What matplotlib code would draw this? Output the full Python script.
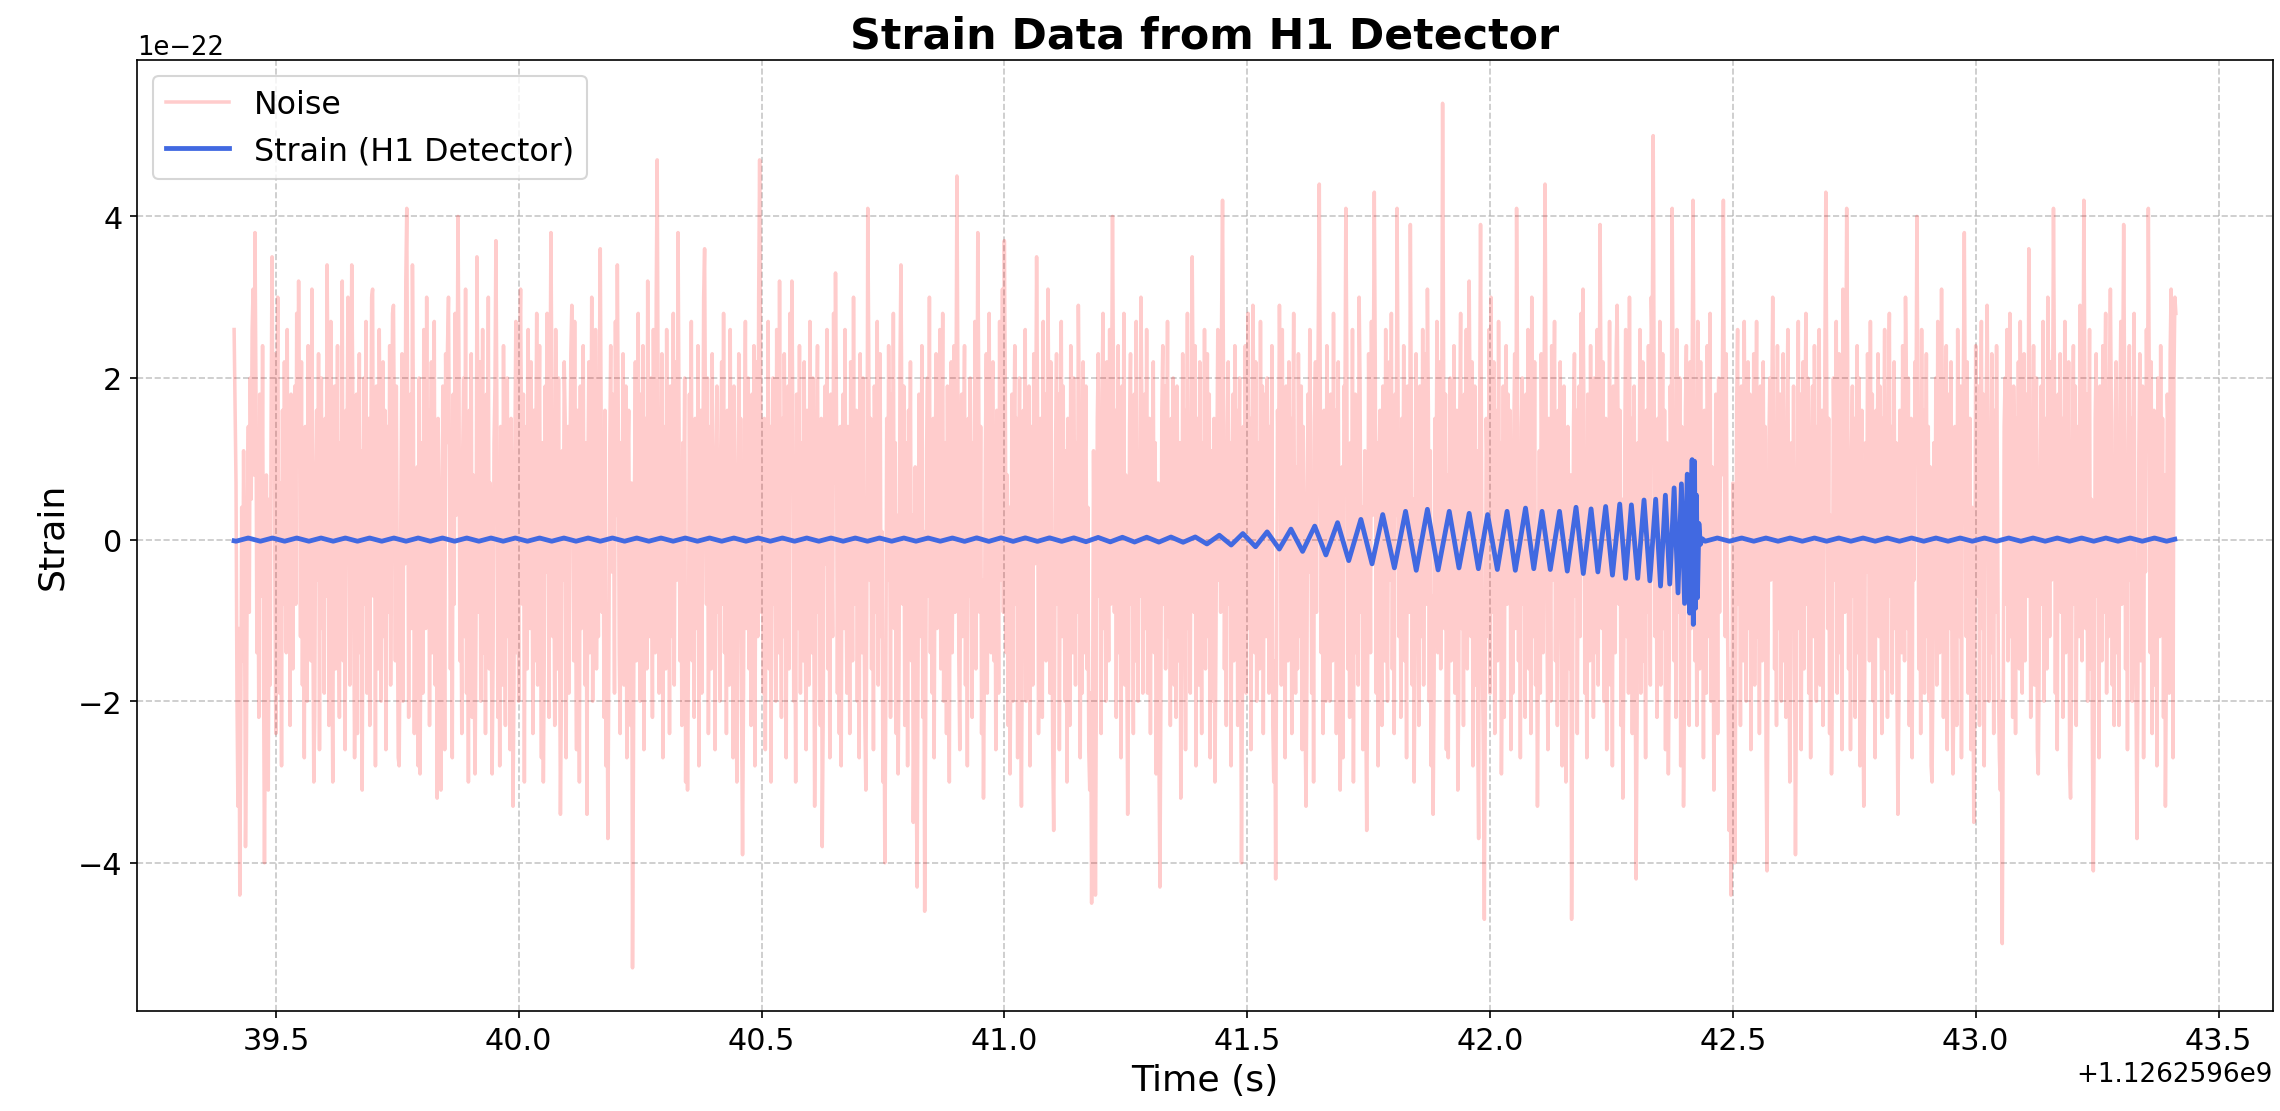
import numpy as np
import matplotlib
matplotlib.use("Agg")
import matplotlib.pyplot as plt

# GPS reference and sampling of the noise record
gps_ref = 1126259600.0
fs = 512.0
noise_start = 39.414

# noise, in units of 1e-23 (32 samples per row)
noise_tenths = [
    26, 16, 7, -19, -33, -11, -44, -23, 4, -15, 11, -8, -38, -26, 3, 14, -9, 20, 5, 26, 31, 8, 38, 19, -14, 9, -22, 18, 1, -7, 24, -16,
    -40, -20, 8, -12, -31, 5, -18, 15, 35, 12, 23, -5, -24, 11, 30, -3, -19, 7, -28, 16, -8, 22, 4, -14, 26, -11, 9, -23, 18, 0, -16, 12,
    19, -8, 28, 11, 32, 15, -12, 22, -18, 5, -27, 14, 3, -20, 24, -4, 9, -15, 31, -9, -30, -22, 7, 16, -5, 23, -26, 12, 20, -11, 8, -19,
    15, -7, 34, 18, -23, 4, 27, -12, -30, 8, 19, -16, 1, 24, -9, -22, 12, -4, 32, -15, 7, -26, 16, 9, 30, 3, -18, 14, 34, 20, -8, -27,
    -11, 18, -24, 5, 23, -14, 11, -31, 3, 20, -8, 27, -19, -1, 15, -23, 8, 30, 31, -7, 12, -28, 19, -4, -16, 26, 9, -20, 4, 22, -12, 16,
    -26, 7, 14, -9, 24, -18, 3, 28, 29, 11, -15, 19, -5, -27, -28, -12, 8, 23, -20, 15, -3, 32, 41, 14, -22, 4, 18, -11, 34, 16, -24, 1,
    -15, 9, -28, 20, -29, -8, 12, -19, 26, 5, -11, 30, -4, 16, -23, 8, 22, -14, 1, 27, -18, 11, -32, 15, 7, -12, -31, -16, 19, 4, -26, 23,
    12, 24, 30, 9, -16, 5, -27, 18, -8, 28, 3, 14, 40, 22, -15, -3, -24, 11, 20, -12, 31, -19, 7, -30, 16, -5, 23, -22, 8, -14, -29, -11,
    35, 15, -9, 22, -20, 4, 26, -14, 11, -24, 18, -3, 30, -16, 7, -8, -29, -15, 12, 19, 37, 16, -22, 3, -28, 14, 8, -18, 24, -7, -23, 9,
    20, -12, 5, -26, 15, -3, -33, -19, 11, 27, -14, 4, -20, 23, 31, 12, -8, 18, -30, 7, 14, -16, 26, -5, -11, 22, 1, -24, 16, -15, 9, 28,
    -18, 8, 24, -7, -27, 12, -30, -14, 19, -4, 28, 9, -22, 16, 38, 18, -12, 3, -23, 26, 7, -16, 20, -9, -34, -20, 11, -5, 22, 15, -27, 4,
    14, -19, 8, 23, 29, 11, -15, 27, -8, -26, 16, 1, -30, 19, -11, 7, 24, -4, -18, 12, -34, 9, 22, -14, 4, 30, -20, 15, -7, 26, -16, 5,
    -12, 20, 36, 14, -9, 5, -22, 16, -28, -8, -37, -16, 11, 24, -4, 18, 8, -19, 27, 3, 34, 15, -14, -24, 12, -7, 23, -18, 1, 19, -27, 9,
    16, -11, -23, 7, -53, -27, 4, 22, -15, 12, 28, -8, -20, 18, -3, 24, -26, 9, 15, -16, 32, -5, -12, 20, 3, -22, 26, 8, -14, 30, 47, 18,
    -19, 5, -9, 23, -27, 14, 4, -16, 26, -7, 11, -24, 19, 1, -12, 28, -18, 8, 22, -5, 38, 16, -15, 9, -23, 12, 3, 20, -30, -8, -31, -14,
    18, -4, 27, -15, 8, -22, 15, 5, -11, 24, -28, 9, 16, -19, 1, 30, 36, 12, -8, 20, -24, -3, 14, -16, 23, -12, 7, -26, 11, 19, -9, 4,
    -20, 11, 22, -8, 28, -14, 5, -24, 16, 3, -18, 26, -5, 12, -27, 19, 8, -15, -30, -12, 23, -3, 15, -22, -39, -19, 9, 27, -11, 4, 20, -16,
    12, -23, 18, -7, 24, -28, 3, 22, -12, 30, 47, 19, -9, 7, -19, 15, -26, 9, -4, 27, -16, 14, -30, 5, 20, -8, 11, -20, 26, 1, -14, 32,
    -5, -22, 15, -12, 23, 4, -27, 11, 19, -16, 28, 7, 32, 14, -20, -1, -30, 18, 8, -11, 24, -19, 12, 3, -15, 22, -8, -26, 16, 5, -18, 27,
    9, -14, 20, -7, -33, -18, 12, 24, -9, 4, -23, 15, -38, -22, 8, 19, -3, 26, -16, 11, -27, 18, 1, -12, 28, 7, 33, 16, -19, 9, -24, 14,
    -28, 8, 18, -11, 26, -4, -19, 14, 3, -24, 22, 9, -15, 30, -8, 5, 16, -20, 12, -27, 23, -1, -14, 20, -7, -23, -31, -9, 41, 24, -5, 15,
    -16, 11, -26, 19, 4, -9, 27, -18, 8, 23, -12, 1, -30, -14, -40, -20, 15, -5, 24, 7, -22, 18, -3, 28, -11, 12, -24, 3, -29, -15, 22, 34,
    14, -8, 19, -23, 5, 12, -28, 16, -4, 22, -15, 3, -35, -19, 9, -27, -43, -16, 18, 7, -12, 24, -22, 1, -46, -24, 11, 20, -7, 30, -14, 8,
    -19, 15, -27, 5, 23, -11, 16, -4, 26, -16, 8, 28, -20, 3, 12, -24, 19, -8, -30, 11, 22, -14, 4, 24, -9, 16, 45, 20, -15, -26, 7, 18,
    -12, 9, 24, -18, 5, -28, 15, -7, 20, 3, -22, 12, -11, 27, -16, 8, 38, 18, -9, 14, -24, -5, -32, -15, 11, 23, -19, 4, 28, -8, -14, 19,
    22, -15, 7, -26, 16, 1, -19, 27, -5, 12, 31, -9, 37, 19, -14, 8, -23, 4, -29, -12, 18, -20, 11, 24, -8, 15, -27, 3, 20, -16, -33, -11,
    16, -7, 26, -20, 9, -12, 19, -28, 4, 14, -18, 23, -3, 11, 35, 16, -24, -8, 15, 5, -22, 27, -11, 18, -15, 3, 31, 12, -19, 22, -5, -26,
    -36, -16, 12, 23, -8, 18, -26, 5, 27, -12, 19, -4, -20, 11, -30, 15, 8, -23, 24, -1, -14, 20, 4, -18, 12, -9, 29, 16, -27, 7, -19, 22,
    -14, 8, 19, -16, 4, -26, -31, -19, -45, -22, 11, -9, -44, -18, 15, 23, -7, 14, -24, 18, 28, -11, 5, -20, 22, 3, -15, 26, -8, 16, 40, 20,
    -9, 16, -22, 7, 24, -14, 12, -27, 19, -4, 28, -18, 8, -12, -34, -16, 14, 23, -8, 3, -24, 18, -15, 27, 5, -20, 11, -7, 30, 15, -19, 9,
    18, -11, 26, -19, 5, 15, -24, 9, -4, 22, -14, 12, -29, -15, 7, -27, -43, -20, 16, 24, -8, 19, -16, 3, 27, -12, 8, -23, 15, -5, 20, -18,
    11, -22, 19, 4, -15, 12, -32, -16, 23, -7, 16, -26, 1, 28, -11, 8, -19, 14, 35, 18, -9, 24, -28, 5, 15, -18, 22, -3, -24, 12, -8, 26,
    -16, 7, 23, -12, 18, -27, 11, 3, -20, 15, -30, -14, 8, 26, -5, 19, -9, 27, 42, 20, -16, 4, -23, 14, 22, -8, 12, -28, 5, 18, -15, 24,
    -7, 16, -23, 9, 20, -12, -40, -18, 14, -4, 24, -19, 8, 28, -11, 15, -26, 5, 29, 16, -14, 22, -20, 3, 12, -16, 27, -8, 19, -24, 7, 18,
    -12, 20, 4, -19, 14, -8, 24, -23, -30, -15, -42, -11, 16, 7, 29, 14, -18, 26, -5, 11, -27, 19, 1, -15, 22, -9, 15, -24, 8, 28, -4, -19,
    9, -16, 23, 3, -12, 19, -26, 14, 5, -22, -33, -16, 18, -4, 26, 11, -19, 8, -30, 15, 22, -9, 12, 27, 44, 20, -14, 4, -24, 16, -8, -20,
    24, -5, 12, -20, 18, 7, -15, 28, -11, 16, -24, 4, 22, -12, -31, -18, 9, -27, 19, 14, 41, 23, -16, 5, -22, 12, -7, 26, -30, 8, 18, -14,
    15, -18, 30, 19, -9, 4, -26, -5, 11, -20, -36, -16, 23, 8, -14, 27, 3, 20, 43, 22, -19, 12, -28, 9, 16, -11, -23, 19, 5, -15, 26, -8,
    -20, 12, 22, -5, 28, -16, 8, -24, 18, 3, 41, 20, -12, 9, -22, 15, -4, 24, -15, 7, -27, 19, 11, -9, 39, 16, -18, 5, -30, -14, 23, -7,
    14, -23, 19, 8, -12, 26, -18, 4, 23, -8, 31, 16, -20, 11, -28, -7, -34, -19, 15, -3, 27, -14, 9, 22, -16, 12, 54, 24, -11, 18, -26, 8,
    -27, 5, 20, -15, 12, -8, 24, -19, 3, 16, -31, -20, 14, 28, -11, 7, -23, 18, -4, 26, -16, 9, 32, 15, -12, 22, -28, 4, 19, -18, 11, -24,
    -37, 14, 39, 11, -16, -27, -47, -20, 15, 8, -12, 26, -19, 30, 4, -9, 22, -24, 16, 7, -15, 27, -5, 12, -29, -14, 19, -22, 9, 24, -8, 18,
    -4, 16, -26, 8, -19, 12, 23, -11, 41, 19, -15, 4, -27, 14, 20, -8, 9, -22, 18, -3, 26, -16, 7, -24, 30, 15, -12, 22, -18, -5, -33, -15,
    11, -19, 23, 7, -14, 18, 44, 20, -9, -26, 15, 3, -20, 24, -5, 12, 27, -15, 8, -23, 16, -3, 22, -12, -28, 9, 19, -7, -30, -18, 14, 4,
    -16, 8, -47, -22, 14, 23, -7, 16, -24, 5, 19, -12, 28, -4, 31, 15, -19, 11, -27, 18, 3, -15, 24, -8, 12, -22, 20, 4, -14, 26, -18, 9,
    39, 18, -11, 22, -20, 7, 15, -26, 9, -5, 27, -18, 12, -28, 19, 3, -14, 23, 29, 14, -8, 16, -23, 5, -32, -16, 11, 26, -12, 20, -19, 30,
    -8, 15, -24, 7, 19, -14, -42, -23, 12, -4, 26, -19, 8, 22, -15, 1, -27, 16, -9, 24, 4, -18, 30, 23, 50, 19, -12, 8, -22, 15, -7, 27,
    -18, 5, 23, -11, 16, -26, 12, 3, -29, -14, 19, 8, 41, 18, -15, 9, -22, 26, 4, -9, 20, -28, 14, -3, -33, -19, 16, 24, -8, 12, -23, 22,
    -11, 18, 42, 19, -15, 7, -23, 27, 4, -16, 22, -7, 12, -27, 16, 1, -19, 24, 8, -12, 28, -20, 9, -4, -31, -15, 18, 11, -24, 20, -9, 14,
    8, 20, 42, 15, -12, 23, -5, -19, -36, -16, -44, -22, 7, -14, -40, -18, 16, 26, -8, 11, -23, 19, 3, -15, 27, 5, -20, 12, 22, -11, 18, -26,
    15, -7, 23, -18, 4, 27, -12, 9, -24, 19, 1, -15, 22, -8, 14, -27, -41, -18, 12, 20, -5, 16, 30, 14, -16, 8, -23, 24, -11, 4, 18, -20,
    11, 23, -15, 5, -22, 16, 26, -9, -30, -16, 12, -5, 19, -14, -39, -19, 8, 27, -11, 18, -26, 3, 22, -16, 14, 28, -8, 20, -19, 7, -27, 12,
    19, -12, 24, 4, -20, 14, -8, 26, -18, 9, 16, -23, 5, 22, 43, 18, -11, 15, -24, 3, -29, -15, 20, 8, -5, 27, -19, 12, 23, -14, 7, -26,
    31, 14, -9, 18, 41, 22, -16, 7, -26, 11, 19, -7, 15, -22, 4, 24, -14, 20, -28, 8, 16, -19, -33, -16, 12, -4, 23, 9, -15, 27, -8, 18,
    -20, 11, -27, 16, 5, 23, -12, 19, -4, -24, 15, 8, 26, -16, 9, -22, 18, 28, -7, 14, -19, 3, 22, -11, 12, -18, -34, -20, 16, 5, -14, 24,
    8, -15, 30, 18, -11, 20, -23, 4, 15, -27, 11, -5, 22, 12, 40, 19, -16, 7, -24, 26, -8, 16, -19, 1, 23, -12, 14, -20, 9, -28, -30, -15,
    12, -8, 20, -18, 27, 5, -14, 16, 31, 15, -22, 9, -4, 24, -26, 7, 18, -11, 22, -16, -29, -19, 14, 3, -23, 26, 8, -12, 19, -27, 11, 20,
    38, 16, -12, 22, -19, 7, 15, -26, 4, -16, -35, -18, 24, 9, -7, 19, -23, 12, 27, -11, 18, -28, 5, 14, 29, 15, -20, 8, -14, 23, -4, -24,
    16, -9, 24, 5, -18, -27, -31, -20, -50, -23, 14, 20, -8, 26, -15, 11, 28, -12, 4, -22, 19, 9, -24, 15, -5, 22, -16, 27, 3, -19, 12, 23,
    -15, 8, 18, -7, 36, 16, -22, 12, -11, 24, -18, 5, 20, -26, -29, -14, 9, 19, -8, 27, -20, 4, 15, -16, 30, 18, -12, 22, -5, 14, 41, 20,
    -19, 11, -26, 18, 3, 23, -9, 15, -22, 7, 27, -14, 16, -5, 22, -28, -32, -18, 12, 24, -8, 19, -23, 4, 14, -12, 29, 16, -15, 9, 42, 22,
    -11, 18, -20, 8, 26, -16, 5, -24, -41, -22, 15, 23, -7, 12, -27, 19, 3, -15, 24, -9, 16, 28, -19, 8, -12, 20, 31, 16, -18, 7, -23, 14,
    22, -14, 9, -23, 16, 27, -8, 19, 39, 18, -16, 7, -26, 12, 24, -5, 15, -20, 8, 28, -12, -19, -37, -18, 11, 23, -15, 5, 19, -27, 14, -4,
    26, 11, 41, 19, -14, 22, -24, 7, 16, -18, 9, -28, 20, 4, -12, 24, -7, 15, -22, 8, -33, -16, 18, 12, -19, 23, 31, 14, -27, 20, 30, 28,
]

# strain signal turning points (seconds after gps_ref, units of 1e-22)
pre_t = [
    39.414,
    39.418, 39.443, 39.468, 39.493, 39.518, 39.543, 39.568, 39.593, 39.618, 39.643,
    39.668, 39.693, 39.718, 39.743, 39.768, 39.793, 39.818, 39.843, 39.868, 39.893,
    39.918, 39.943, 39.968, 39.993, 40.018, 40.043, 40.068, 40.093, 40.118, 40.143,
    40.168, 40.193, 40.218, 40.243, 40.268, 40.293, 40.318, 40.343, 40.368, 40.393,
    40.418, 40.443, 40.468, 40.493, 40.518, 40.543, 40.568, 40.593, 40.618, 40.643,
    40.668, 40.693, 40.718, 40.743, 40.768, 40.793, 40.818, 40.843, 40.868, 40.893,
    40.918, 40.943, 40.968, 40.993, 41.018, 41.043, 41.068, 41.093, 41.118, 41.143,
    41.168, 41.193, 41.218, 41.243, 41.268, 41.293, 41.318, 41.343,
]
pre_v = [
    -0.015,
    -0.02, 0.02, -0.02, 0.02, -0.02, 0.02, -0.02, 0.02, -0.02, 0.02,
    -0.02, 0.02, -0.02, 0.02, -0.02, 0.02, -0.02, 0.02, -0.02, 0.02,
    -0.02, 0.02, -0.02, 0.02, -0.02, 0.02, -0.02, 0.02, -0.02, 0.02,
    -0.02, 0.02, -0.02, 0.02, -0.02, 0.02, -0.02, 0.02, -0.02, 0.02,
    -0.02, 0.02, -0.02, 0.02, -0.02, 0.02, -0.02, 0.02, -0.02, 0.02,
    -0.02, 0.02, -0.02, 0.02, -0.02, 0.02, -0.02, 0.02, -0.02, 0.02,
    -0.022, 0.022, -0.022, 0.022, -0.022, 0.022, -0.022, 0.022, -0.022, 0.022,
    -0.026, 0.027, -0.028, 0.029, -0.03, 0.03, -0.031, 0.032,
]

chirp_t = [
    41.368, 41.393, 41.417, 41.4425, 41.467, 41.491, 41.517, 41.541, 41.566, 41.590,
    41.614, 41.639, 41.662, 41.686, 41.709, 41.734, 41.757, 41.779, 41.803, 41.826,
    41.848, 41.871, 41.893, 41.916, 41.936, 41.957, 41.976, 41.995, 42.015, 42.035,
    42.052, 42.073, 42.090, 42.107, 42.124, 42.143, 42.159, 42.177, 42.192, 42.208,
    42.222, 42.238, 42.252, 42.267, 42.279, 42.291, 42.304, 42.317, 42.329, 42.341,
    42.351, 42.361, 42.370, 42.379, 42.387, 42.394, 42.4005, 42.406, 42.411, 42.416,
    42.4185, 42.421, 42.423, 42.425, 42.427, 42.430, 42.433, 42.437,
]
chirp_v = [
    -0.033, 0.033, -0.054, 0.054, -0.067, 0.075, -0.088, 0.096, -0.117, 0.13,
    -0.146, 0.167, -0.19, 0.21, -0.26, 0.25, -0.30, 0.31, -0.35, 0.35,
    -0.38, 0.375, -0.375, 0.35, -0.35, 0.325, -0.36, 0.31, -0.37, 0.35,
    -0.38, 0.39, -0.36, 0.35, -0.37, 0.35, -0.39, 0.40, -0.42, 0.38,
    -0.40, 0.41, -0.44, 0.44, -0.48, 0.43, -0.48, 0.49, -0.51, 0.50,
    -0.575, 0.55, -0.55, 0.64, -0.66, 0.69, -0.79, 0.81, -0.91, 0.99,
    -1.05, 0.97, -0.85, 0.55, -0.72, 0.2, -0.06, 0.01,
]

post_t = [
    42.443, 42.468, 42.493, 42.518, 42.543, 42.568, 42.593, 42.618, 42.643, 42.668,
    42.693, 42.718, 42.743, 42.768, 42.793, 42.818, 42.843, 42.868, 42.893, 42.918,
    42.943, 42.968, 42.993, 43.018, 43.043, 43.068, 43.093, 43.118, 43.143, 43.168,
    43.193, 43.218, 43.243, 43.268, 43.293, 43.318, 43.343, 43.368, 43.393, 43.410,
]
post_v = [
    -0.02, 0.02, -0.02, 0.02, -0.02, 0.02, -0.02, 0.02, -0.02, 0.02,
    -0.02, 0.02, -0.02, 0.02, -0.02, 0.02, -0.02, 0.02, -0.02, 0.02,
    -0.02, 0.02, -0.02, 0.02, -0.02, 0.02, -0.02, 0.02, -0.02, 0.02,
    -0.02, 0.02, -0.02, 0.02, -0.02, 0.02, -0.02, 0.02, -0.02, 0.005,
]

noise = np.array(noise_tenths) * 1e-23
time_noise = gps_ref + noise_start + np.arange(len(noise)) / fs

time_strain = gps_ref + np.array(pre_t + chirp_t + post_t)
strain = np.array(pre_v + chirp_v + post_v) * 1e-22

fig = plt.figure(figsize=(15.2, 7.413), dpi=150)
ax = fig.add_axes([0.0601, 0.0899, 0.9368, 0.8552])

ax.plot(time_noise, noise, color='red', alpha=0.2, linewidth=1.7, label='Noise')
ax.plot(time_strain, strain, color='royalblue', linewidth=2.3, label='Strain (H1 Detector)')

# title, labels
ax.set_title('Strain Data from H1 Detector', fontsize=20.5, fontweight='bold')
ax.set_xlabel('Time (s)', fontsize=17.4)
ax.set_ylabel('Strain', fontsize=17.4)
ax.tick_params(labelsize=14.5)
ax.xaxis.get_offset_text().set_fontsize(12.6)
ax.yaxis.get_offset_text().set_fontsize(12.4)

ax.grid(True, linestyle='--', alpha=0.7)
ax.legend(loc='upper left', fontsize=15.2)

fig.savefig('out.png', dpi=150)
